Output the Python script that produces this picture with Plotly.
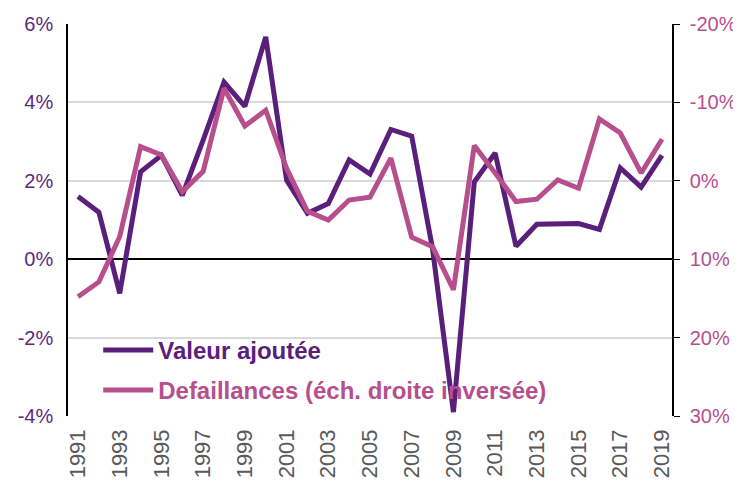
import plotly.graph_objects as go

years = list(range(1991, 2020))

# Valeur ajoutée, % (left axis)
valeur_ajoutee = [1.6, 1.2, -0.87, 2.23, 2.65, 1.63, 3.04, 4.52, 3.9, 5.67,
                  2.02, 1.17, 1.42, 2.53, 2.17, 3.31, 3.14, 0.26, -3.9, 1.97,
                  2.71, 0.33, 0.89, 0.91, 0.91, 0.76, 2.33, 1.84, 2.65]

# Defaillances, % (right axis, reversed)
defaillances = [14.8, 12.9, 7.1, -4.35, -3.3, 1.4, -1.2, -11.8, -7.0, -9.0,
                -1.6, 3.9, 5.0, 2.45, 2.1, -2.9, 7.2, 8.4, 13.9, -4.5,
                -1.0, 2.65, 2.35, -0.1, 0.95, -7.9, -6.1, -1.0, -5.3]

left_ticks = [-4, -2, 0, 2, 4, 6]
right_ticks = [-20, -10, 0, 10, 20, 30]
year_ticks = list(range(1991, 2020, 2))

PURPLE = "#5a1e7b"
PINK = "#b64f8c"

fig = go.Figure()

fig.add_trace(go.Scatter(
    x=years, y=valeur_ajoutee, mode="lines",
    name="<b><span style='color:%s'>Valeur ajoutée</span></b>" % PURPLE,
    line=dict(color=PURPLE, width=5), legendgroup="va"))

fig.add_trace(go.Scatter(
    x=years, y=defaillances, mode="lines",
    name="<b><span style='color:%s'>Defaillances (éch. droite inversée)</span></b>" % PINK,
    line=dict(color=PINK, width=5), yaxis="y2", legendgroup="def"))

# page body has an 8px margin, so the figure is a bit smaller than the window
fig.update_layout(
    width=733, height=474,
    margin=dict(l=60, r=69, t=16, b=66),
    plot_bgcolor="white", paper_bgcolor="white",
    font=dict(family="Liberation Sans, Arial, sans-serif", size=20),
    xaxis=dict(
        range=[1990.52, 2019.48], tickvals=year_ticks, tickangle=-90,
        showgrid=False, showline=False, zeroline=False, automargin=False,
        tickfont=dict(color="#595959", size=22), ticks="", ticklen=0,
        ticklabelstandoff=8),
    yaxis=dict(
        range=[-4, 6], tickvals=left_ticks, ticktext=[f"{v}%" for v in left_ticks],
        showgrid=True, gridcolor="#d9d9d9", gridwidth=1.5,
        zeroline=True, zerolinecolor="black", zerolinewidth=2,
        showline=True, linecolor="black", linewidth=1.5,
        tickfont=dict(color="#5b2a80", size=20), automargin=False,
        ticklabelstandoff=9),
    yaxis2=dict(
        range=[30, -20], tickvals=right_ticks, ticktext=[f"{v}%" for v in right_ticks],
        overlaying="y", side="right", showgrid=False, zeroline=False,
        showline=True, linecolor="black", linewidth=1.5,
        ticks="outside", ticklen=6, tickcolor="black",
        tickfont=dict(color="#b5508e", size=20), automargin=False,
        ticklabelstandoff=6),
    showlegend=True,
    legend=dict(
        x=0.05, y=0.225, xanchor="left", yanchor="top",
        bgcolor="rgba(0,0,0,0)", traceorder="grouped", tracegroupgap=6,
        font=dict(size=24, family="Liberation Sans, Arial, sans-serif"),
        itemwidth=50),
)

fig.write_html("out.html")
